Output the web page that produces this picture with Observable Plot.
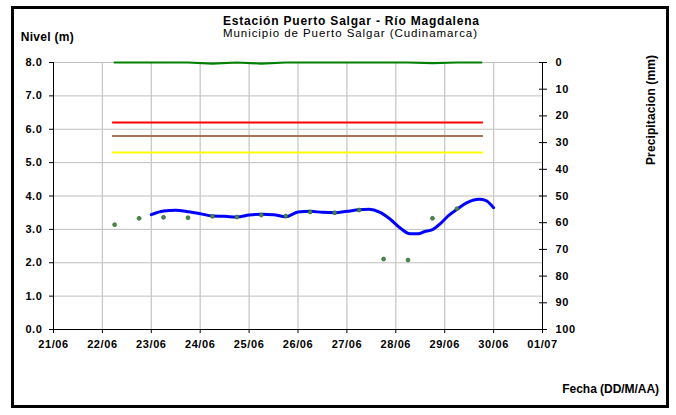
<!DOCTYPE html>
<html><head><meta charset="utf-8">
<script src="https://cdn.jsdelivr.net/npm/d3@7"></script>
<script src="https://cdn.jsdelivr.net/npm/@observablehq/plot@0.6"></script>
<style>
body{margin:0;background:#fff}
svg text{letter-spacing:0.6px;font-weight:bold}
svg text.ann{letter-spacing:0}
svg text.ann.normal{font-weight:normal}
</style>
</head><body><div id="chart"></div>
<script>
// ---- data ----
const levelTimes = ["2011-06-23T00:00","2011-06-23T06:00","2011-06-23T12:00","2011-06-23T18:00",
  "2011-06-24T00:00","2011-06-24T06:00","2011-06-24T12:00","2011-06-24T18:00",
  "2011-06-25T00:00","2011-06-25T06:00","2011-06-25T12:00","2011-06-25T18:00",
  "2011-06-26T00:00","2011-06-26T06:00","2011-06-26T12:00","2011-06-26T18:00",
  "2011-06-27T00:00","2011-06-27T06:00","2011-06-27T11:00","2011-06-27T16:00","2011-06-27T21:00",
  "2011-06-28T02:00","2011-06-28T07:00","2011-06-28T11:00","2011-06-28T14:00","2011-06-28T18:00","2011-06-28T22:00",
  "2011-06-29T02:00","2011-06-29T06:00","2011-06-29T11:00","2011-06-29T17:00","2011-06-29T20:00","2011-06-30T00:00"];
const levelValues = [3.44,3.55,3.57,3.53,
  3.47,3.40,3.39,3.37,
  3.43,3.45,3.44,3.38,
  3.52,3.54,3.51,3.50,
  3.54,3.59,3.60,3.52,3.32,
  3.05,2.87,2.87,2.93,2.99,3.18,
  3.42,3.60,3.80,3.90,3.87,3.65];

const obsTimes = ["2011-06-22T06:00","2011-06-22T18:00","2011-06-23T06:00","2011-06-23T18:00",
  "2011-06-24T06:00","2011-06-24T18:00","2011-06-25T06:00","2011-06-25T18:00",
  "2011-06-26T06:00","2011-06-26T18:00","2011-06-27T06:00","2011-06-27T18:00",
  "2011-06-28T06:00","2011-06-28T18:00","2011-06-29T06:00"];
const obsValues = [3.14,3.33,3.36,3.35,3.39,3.37,3.43,3.40,3.52,3.50,3.58,2.11,2.08,3.33,3.62];

const precipTimes = ["2011-06-22T06:00","2011-06-22T18:00","2011-06-23T06:00","2011-06-23T18:00",
  "2011-06-24T06:00","2011-06-24T18:00","2011-06-25T06:00","2011-06-25T18:00",
  "2011-06-26T06:00","2011-06-26T18:00","2011-06-27T06:00","2011-06-27T18:00",
  "2011-06-28T06:00","2011-06-28T18:00","2011-06-29T06:00","2011-06-29T18:00"];
const precipValues = [0,0,0,0,0.4,0,0.4,0,0,0,0,0,0,0.2,0,0];

const thresholdNames = ["Roja","Naranja","Amarilla"];
const thresholdValues = [6.2,5.8,5.3];
const thresholdColors = ["#ff0000","#a47552","#ffff00"];
const thresholdStart = "2011-06-22T05:00";
const thresholdEnd = "2011-06-29T19:00";

const xTickLabels = ["21/06","22/06","23/06","24/06","25/06","26/06","27/06","28/06","29/06","30/06","01/07"];
const yTicks = [0,1,2,3,4,5,6,7,8];
const precipTicks = [0,10,20,30,40,50,60,70,80,90,100];

// ---- build ----
const parse = s => new Date(s + ":00Z");
const xTicks = xTickLabels.map(s => { const [d,m] = s.split("/").map(Number); return new Date(Date.UTC(2011, m-1, d)); });
const pToY = p => 8 - p * 8 / 100;

const level = levelTimes.map((t,i) => ({t: parse(t), v: levelValues[i]}));
const obs = obsTimes.map((t,i) => ({t: parse(t), v: obsValues[i]}));
const precip = precipTimes.map((t,i) => ({t: parse(t), p: precipValues[i]}));
const thresholds = thresholdValues.map((v,i) => ({name: thresholdNames[i], v, color: thresholdColors[i], start: parse(thresholdStart), end: parse(thresholdEnd)}));

const x0 = xTicks[0], x1 = xTicks[xTicks.length-1];
const axisFont = {fontWeight: "bold", fontSize: 11};

const chart = Plot.plot({
  width: 676, height: 415,
  marginLeft: 53, marginRight: 134, marginTop: 62, marginBottom: 86,
  x: {type: "utc", domain: [x0, x1]},
  y: {domain: [0, 8]},
  color: {type: "identity"},
  style: {fontFamily: "'Liberation Sans', Arial, sans-serif", fontSize: "11px", fontWeight: "bold", color: "black", background: "white", overflow: "visible"},
  marks: [
    Plot.gridY({ticks: yTicks.filter(d => d > 0), stroke: "#c0c0c0", strokeOpacity: 1}),
    Plot.gridX({ticks: xTicks.slice(1, -1), stroke: "#c8c8c8", strokeOpacity: 1, strokeWidth: 1.3}),
    Plot.ruleY(thresholds, {y: "v", x1: "start", x2: "end", stroke: "color", strokeWidth: 2}),
    Plot.line(precip, {x: "t", y: d => pToY(d.p), stroke: "#008000", strokeWidth: 2.2}),
    Plot.ruleX([x0, x1], {stroke: "black", strokeWidth: 1}),
    Plot.ruleY([0], {stroke: "black", strokeWidth: 1}),
    Plot.line(level, {x: "t", y: "v", stroke: "#0000ff", strokeWidth: 3, curve: "monotone-x"}),
    Plot.dot(obs, {x: "t", y: "v", r: 2, fill: "#3f8f3f", stroke: "#35553a", strokeWidth: 0.6}),
    Plot.axisY({anchor: "left", ticks: yTicks, tickFormat: d => d.toFixed(1), tickSize: 4, tickPadding: 7, label: null, ...axisFont}),
    Plot.axisY({anchor: "right", ticks: precipTicks.map(pToY), tickFormat: v => String(Math.round((8 - v) * 100 / 8)), tickSize: 4, tickPadding: 9, label: null, ...axisFont}),
    Plot.axisY({anchor: "right", ticks: precipTicks.map(pToY), tickFormat: () => "", tickSize: 4, dx: -4, label: null}),
    Plot.axisX({ticks: xTicks, tickFormat: d3.utcFormat("%d/%m"), tickSize: 4, tickPadding: 7, label: null, ...axisFont})
  ]
});
document.getElementById("chart").appendChild(chart);

const svg = d3.select(chart);
svg.append("rect").attr("x", 12.5).attr("y", 7.5).attr("width", 655).attr("height", 399)
  .attr("fill", "none").attr("stroke", "black").attr("stroke-width", 3);
const ann = (txt, x, y, opts) => {
  const t = svg.append("text").attr("class", "ann" + (opts.weight === "normal" ? " normal" : "")).attr("x", x).attr("y", y).text(txt)
    .attr("font-size", opts.size || 12)
    .attr("text-anchor", opts.anchor || "start").attr("fill", "black");
  if (opts.len) t.attr("textLength", opts.len).attr("lengthAdjust", "spacing");
  if (opts.rotate) t.attr("transform", `rotate(-90 ${x} ${y})`);
  return t;
};
ann("Estación Puerto Salgar - Río Magdalena", 351, 24.5, {anchor: "middle", len: 256});
ann("Municipio de Puerto Salgar (Cudinamarca)", 350, 37, {anchor: "middle", weight: "normal", size: 11.5, len: 254});
ann("Nivel (m)", 20.7, 41, {len: 53});
ann("Fecha (DD/M/AA)", 562.3, 392.7, {len: 96.7});
ann("Precipitacion (mm)", 655, 110, {anchor: "middle", len: 110, rotate: true});
</script></body></html>
